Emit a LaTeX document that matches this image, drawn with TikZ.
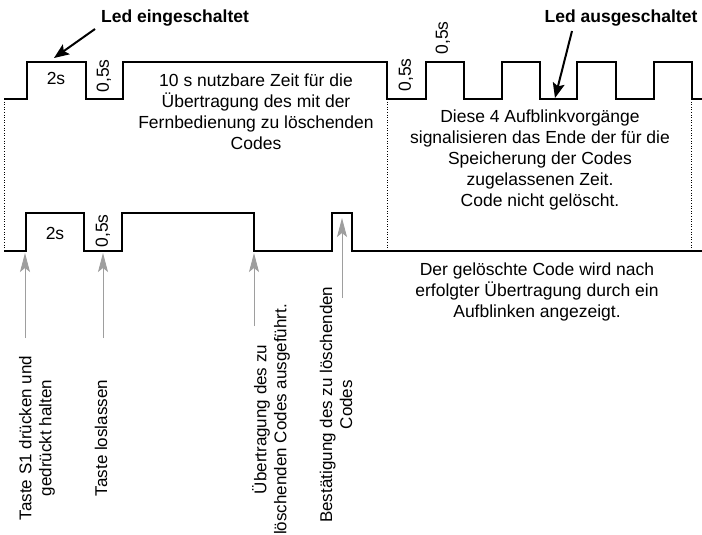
\documentclass[tikz,border=0pt]{standalone}
\usepackage{fontspec}
\setmainfont{Liberation Sans}
\usetikzlibrary{arrows.meta}
\begin{document}
\begin{tikzpicture}[x=1pt,y=-1pt,
  wave/.style={line width=2pt,line join=miter},
  guide/.style={dotted,line width=0.6pt},
  txt/.style={inner sep=0pt,align=center,font=\fontsize{17.5}{21}\selectfont},
  small/.style={inner sep=0pt,font=\fontsize{17.5}{21}\selectfont},
  vlabel/.style={inner sep=0pt,align=center,rotate=90,font=\fontsize{17}{20}\selectfont},
  title/.style={inner sep=0pt,font=\fontsize{17.5}{21}\selectfont\bfseries},
  blackarrow/.style={line width=2pt,-{Stealth[length=15pt,width=12pt,inset=3pt]}},
  grayarrow/.style={draw=black!38,line width=1pt,-{Stealth[length=19pt,width=10pt,inset=4pt]}}]
\useasboundingbox (0,0) rectangle (702,535);

% top waveform
\draw[wave] (4,99) -- (27,99) -- (27,62) -- (86,62) -- (86,99) -- (123,99) -- (123,62)
  -- (387,62) -- (387,99) -- (426,99) -- (426,62) -- (464,62) -- (464,99) -- (502,99)
  -- (502,62) -- (540,62) -- (540,99) -- (577,99) -- (577,62) -- (616,62) -- (616,99)
  -- (654,99) -- (654,62) -- (692,62) -- (692,99) -- (702,99);
% bottom waveform
\draw[wave] (4,251) -- (26,251) -- (26,213) -- (84,213) -- (84,251) -- (122,251) -- (122,213)
  -- (254,213) -- (254,251) -- (332,251) -- (332,213) -- (352,213) -- (352,251) -- (702,251);

% dotted guides
\draw[guide] (4,99) -- (4,251);
\draw[guide] (387,99) -- (387,251);
\draw[guide] (691,99) -- (691,251);

% duration labels
\node[small] (t2s) at (56,78) {2s};
\node[small,rotate=90] (t05a) at (104,76) {0,5s};
\node[small,rotate=90] (t05b) at (406,75) {0,5s};
\node[small,rotate=90] (t05c) at (443,38) {0,5s};
\node[small] (b2s) at (55,233) {2s};
\node[small,rotate=90] (b05) at (103,231) {0,5s};

% titles and black arrows
\node[title] (ein) at (175,18) {Led eingeschaltet};
\node[title] (aus) at (621,18) {Led ausgeschaltet};
\coordinate (einT) at (95,29);
\coordinate (einH) at (54,58);
\coordinate (ausT) at (572,31);
\coordinate (ausH) at (555,98);
\draw[blackarrow] (einT) -- (einH);
\draw[blackarrow] (ausT) -- (ausH);

% explanatory texts
\node[txt] (zeit) at (256,112) {10 s nutzbare Zeit für die\\Übertragung des mit der\\Fernbedienung zu löschenden\\Codes};
\node[txt] (blink) at (540,160) {Diese 4 Aufblinkvorgänge\\signalisieren das Ende der für die\\Speicherung der Codes\\zugelassenen Zeit.\\Code nicht gelöscht.};
\node[txt] (geloescht) at (537,292) {Der gelöschte Code wird nach\\erfolgter Übertragung durch ein\\Aufblinken angezeigt.};

% gray arrows
\coordinate (g1T) at (25,338); \coordinate (g1H) at (25,253);
\coordinate (g2T) at (103,338); \coordinate (g2H) at (103,253);
\coordinate (g3T) at (254,326); \coordinate (g3H) at (254,253);
\coordinate (g4T) at (342,298); \coordinate (g4H) at (342,218);
\draw[grayarrow] (g1T) -- (g1H);
\draw[grayarrow] (g2T) -- (g2H);
\draw[grayarrow] (g3T) -- (g3H);
\draw[grayarrow] (g4T) -- (g4H);

% rotated labels
\node[vlabel] (l1) at (37,438) {Taste S1 drücken und\\gedrückt halten};
\node[vlabel] (l2) at (101,438) {Taste loslassen};
\node[vlabel,anchor=west] (l3) at (271,535) {Übertragung des zu\\löschenden Codes ausgeführt.};
\node[vlabel,anchor=west] (l4) at (336,523) {Bestätigung des zu löschenden\\Codes};
\end{tikzpicture}
\end{document}
